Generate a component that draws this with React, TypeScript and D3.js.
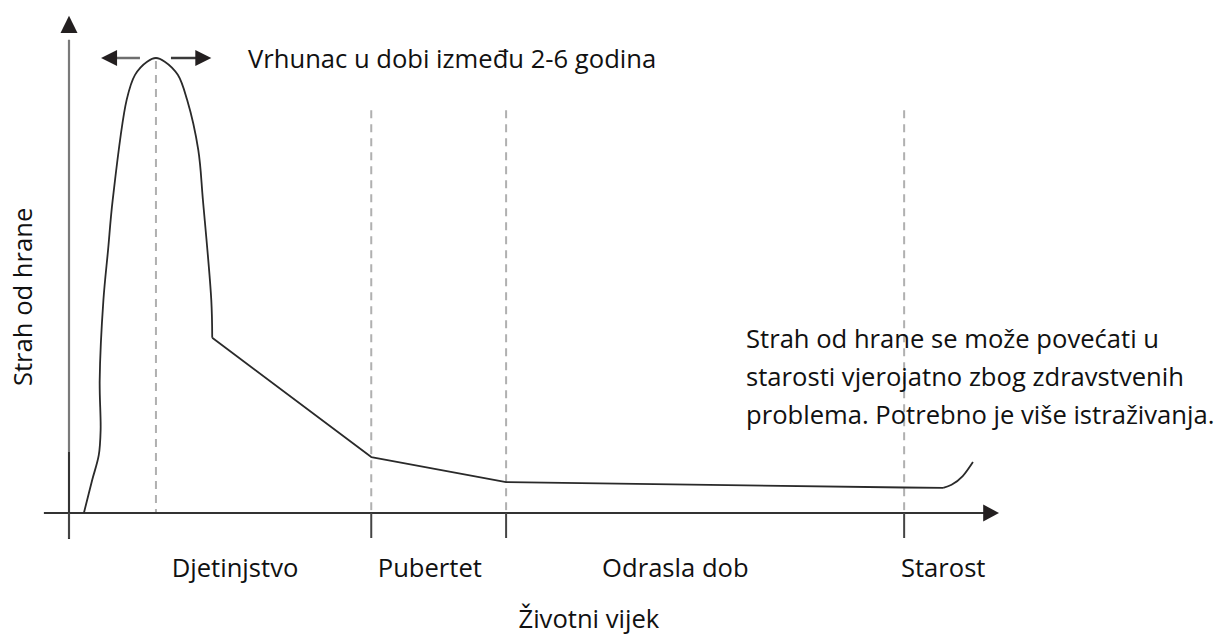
import React, { useEffect, useRef } from 'react';
import * as d3 from 'd3';

// lifespan on x (0-100), food fear on y (0-100)
const bellX = [1.6, 2.5, 3.2, 3.4, 3.3, 3.7, 4.2, 4.7, 6.2, 7.1, 8.4, 9.35, 10.3, 11.7, 12.7, 13.9, 14.4, 15.3, 15.4];
const bellY = [0, 7.3, 12.7, 18.2, 29.2, 46.8, 57.8, 68.8, 90.8, 96.3, 99.2, 100, 99.2, 96.3, 90.8, 79.8, 68.8, 46.8, 38.5];
const midX = [15.4, 32.5, 47, 89.8, 94.0];
const midY = [38.5, 12.3, 6.8, 5.6, 5.5];
const tailX = [94.0, 94.9, 96.1, 97.2];
const tailY = [5.5, 6.2, 8.1, 11.2];

const peakAge = 9.35;
const stageBounds = [32.5, 47, 89.8];
const stageNames = ['Djetinjstvo', 'Pubertet', 'Odrasla dob', 'Starost'];
const stageCenters = [17.85, 38.8, 65.2, 94.0];
const peakRange = [3.45, 15.3];

const peakNote = 'Vrhunac u dobi između 2-6 godina';
const oldAgeNote = [
    'Strah od hrane se može povećati u',
    'starosti vjerojatno zbog zdravstvenih',
    'problema. Potrebno je više istraživanja.',
];
const xTitle = 'Životni vijek';
const yTitle = 'Strah od hrane';

export default function App() {
    const width = 1231;
    const height = 636;
    const svgRef = useRef<SVGSVGElement>(null);

    useEffect(() => {
        const svg = d3.select(svgRef.current);
        svg.selectAll('*').remove();

        const font = '"Open Sans", sans-serif';
        const fontSize = 25.6;
        const dark = '#231f20';

        const x = d3.scaleLinear().domain([0, 100]).range([69, 999]);
        const y = d3.scaleLinear().domain([0, 100]).range([513, 58]);

        // dashed guides
        const guides = [
            { at: peakAge, top: 100 },
            ...stageBounds.map(b => ({ at: b, top: 89.2 })),
        ];
        svg.append('g')
            .selectAll('line')
            .data(guides)
            .join('line')
            .attr('x1', d => x(d.at))
            .attr('x2', d => x(d.at))
            .attr('y1', d => y(d.top) + 3)
            .attr('y2', y(0))
            .attr('stroke', '#b0b0b0')
            .attr('stroke-width', 2)
            .attr('stroke-dasharray', '8,6');

        // axes
        const x0 = x(0);
        const y0 = y(0);
        svg.append('line')
            .attr('x1', x0).attr('x2', x0)
            .attr('y1', y(-5.7)).attr('y2', y(104))
            .attr('stroke', '#7a7a7a').attr('stroke-width', 2.2);
        svg.append('line')
            .attr('x1', x0).attr('x2', x0)
            .attr('y1', y(-5.7)).attr('y2', y(13.4))
            .attr('stroke', '#333').attr('stroke-width', 2);
        svg.append('path')
            .attr('d', `M${x0},${y(109.3)}L${x0 - 8.5},${y(105.5)}L${x0 + 8.5},${y(105.5)}Z`)
            .attr('fill', dark);

        svg.append('line')
            .attr('x1', x(-2.7)).attr('x2', x(98.5))
            .attr('y1', y0).attr('y2', y0)
            .attr('stroke', '#333').attr('stroke-width', 2.2);
        svg.append('path')
            .attr('d', `M${x(100)},${y0}L${x(98.3)},${y0 - 8.5}L${x(98.3)},${y0 + 8.5}Z`)
            .attr('fill', dark);

        svg.append('g')
            .selectAll('line')
            .data([0, ...stageBounds])
            .join('line')
            .attr('x1', d => x(d)).attr('x2', d => x(d))
            .attr('y1', y0).attr('y2', y(-5.5))
            .attr('stroke', '#444').attr('stroke-width', 2);

        // curve
        const pts = (xs: number[], ys: number[]) => xs.map((v, i) => [v, ys[i]] as [number, number]);
        const segs: [number[], number[], d3.CurveFactory][] = [
            [bellX, bellY, d3.curveCatmullRom.alpha(0.5)],
            [midX, midY, d3.curveLinear],
            [tailX, tailY, d3.curveMonotoneX],
        ];
        segs.forEach(([xs, ys, c]) => {
            const line = d3.line<[number, number]>()
                .x(d => x(d[0]))
                .y(d => y(d[1]))
                .curve(c);
            svg.append('path')
                .datum(pts(xs, ys))
                .attr('fill', 'none')
                .attr('stroke', '#2a2a2a')
                .attr('stroke-width', 1.8)
                .attr('stroke-linejoin', 'round')
                .attr('d', line);
        });

        // peak arrows
        const py = y(100);
        const [lx, rx] = peakRange;
        svg.append('line')
            .attr('x1', x(lx) + 15).attr('x2', x(peakAge) - 16)
            .attr('y1', py).attr('y2', py)
            .attr('stroke', '#6e6e6e').attr('stroke-width', 2.5);
        svg.append('line')
            .attr('x1', x(peakAge) + 15).attr('x2', x(rx) - 15)
            .attr('y1', py).attr('y2', py)
            .attr('stroke', '#3a3a3a').attr('stroke-width', 2.5);
        svg.append('path')
            .attr('d', `M${x(lx)},${py}L${x(lx) + 16},${py - 8}L${x(lx) + 16},${py + 8}Z`)
            .attr('fill', dark);
        svg.append('path')
            .attr('d', `M${x(rx)},${py}L${x(rx) - 16},${py - 8}L${x(rx) - 16},${py + 8}Z`)
            .attr('fill', dark);

        const text = (sel: d3.Selection<SVGTextElement, unknown, null, undefined>) =>
            sel.attr('font-family', font).attr('font-size', fontSize).attr('fill', '#111');

        svg.append('text')
            .attr('x', x(19.25)).attr('y', y(97.8))
            .text(peakNote)
            .call(text);

        svg.append('g')
            .selectAll('text')
            .data(stageNames)
            .join('text')
            .attr('x', (d, i) => x(stageCenters[i]))
            .attr('y', y(-14))
            .attr('text-anchor', 'middle')
            .text(d => d)
            .call(text as any);

        svg.append('text')
            .attr('x', x(55.9)).attr('y', y(-25.3))
            .attr('text-anchor', 'middle')
            .text(xTitle)
            .call(text);

        svg.append('text')
            .attr('transform', `translate(32,${y(47.5)}) rotate(-90)`)
            .attr('text-anchor', 'middle')
            .text(yTitle)
            .call(text);

        svg.append('g')
            .selectAll('text')
            .data(oldAgeNote)
            .join('text')
            .attr('x', x(72.8))
            .attr('y', (d, i) => y(36.3) + i * 38)
            .text(d => d)
            .call(text as any);
    }, []);

    return (
        <svg
            ref={svgRef}
            width={width}
            height={height}
            style={{ position: 'absolute', left: 0, top: 0, background: '#fff' }}
        />
    );
}
